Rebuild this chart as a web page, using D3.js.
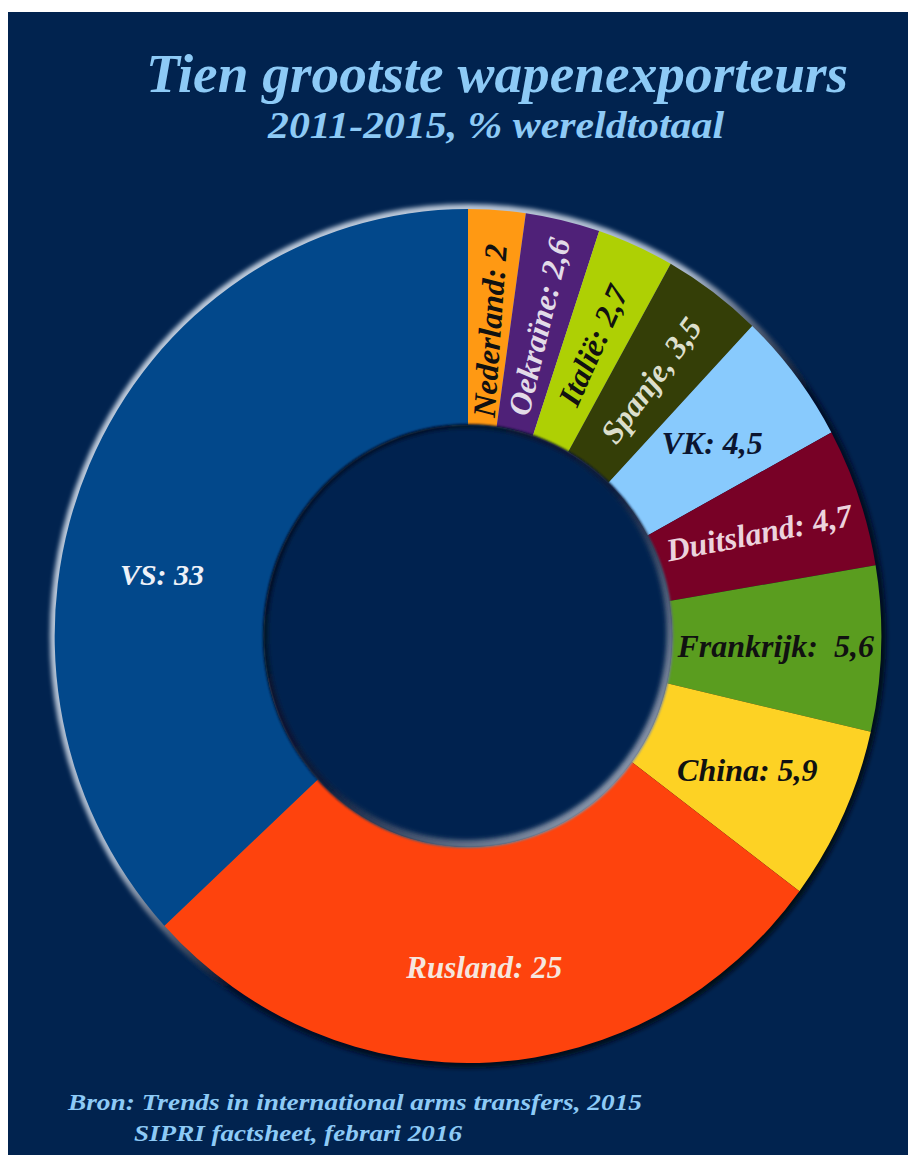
<!DOCTYPE html>
<html>
<head>
<meta charset="utf-8">
<script src="https://cdn.jsdelivr.net/npm/d3@7"></script>
<style>
  body { margin: 0; background: #fff; }
</style>
</head>
<body>
<script>
// Tien grootste wapenexporteurs 2011-2015 (SIPRI)
const countries = ["Nederland", "Oekraïne", "Italië", "Spanje", "VK", "Duitsland", "Frankrijk", "China", "Rusland", "VS"];
const shares    = [2, 2.6, 2.7, 3.5, 4.5, 4.7, 5.6, 5.9, 25, 33];
const labels    = ["Nederland: 2", "Oekraïne: 2,6", "Italië: 2,7", "Spanje, 3,5", "VK: 4,5", "Duitsland: 4,7",
                   "Frankrijk:\u00a0 5,6", "China: 5,9", "Rusland: 25", "VS: 33"];
const colors    = ["#ff9913", "#4f2178", "#aed004", "#343e07", "#88cafd", "#780126", "#5a9d1f", "#fdd224", "#fe430d", "#02488b"];
const textCols  = ["#111", "#e2dbe8", "#111", "#dcdfcc", "#0b1530", "#ecd3dd", "#111", "#111", "#f6e6de", "#eef1f8"];

const width = 920, height = 1158;
const bg = "#01234f";
const serif = "'Liberation Serif', 'DejaVu Serif', serif";
const cx = 468, cy = 636, rOut = 427, rIn = 211, sx = 0.968;

const svg = d3.select("body").append("svg")
    .attr("width", width)
    .attr("height", height)
    .style("font-family", serif)
    .style("font-style", "italic");

const defs = svg.append("defs");

let rim = defs.append("linearGradient").attr("id", "rim")
    .attr("x1", 0).attr("y1", 0).attr("x2", 1).attr("y2", 1);
rim.append("stop").attr("offset", 0).attr("stop-color", "#c9d5e4");
rim.append("stop").attr("offset", 0.42).attr("stop-color", "#a9b8cc");
rim.append("stop").attr("offset", 0.56).attr("stop-color", "#04112a");
rim.append("stop").attr("offset", 1).attr("stop-color", "#000510");

let bevel = defs.append("linearGradient").attr("id", "bevel")
    .attr("x1", 0).attr("y1", 0).attr("x2", 1).attr("y2", 1);
bevel.append("stop").attr("offset", 0).attr("stop-color", "#000814");
bevel.append("stop").attr("offset", 0.5).attr("stop-color", "#0b1d3c");
bevel.append("stop").attr("offset", 1).attr("stop-color", "#b9c6d6");

defs.append("filter").attr("id", "soft")
  .append("feGaussianBlur").attr("stdDeviation", 2);
defs.append("filter").attr("id", "soft1")
  .append("feGaussianBlur").attr("stdDeviation", 1);

// background panel
svg.append("rect")
    .attr("x", 8).attr("y", 12)
    .attr("width", 900).attr("height", 1143)
    .attr("fill", bg);

// title
svg.append("text")
    .attr("x", 497).attr("y", 92)
    .attr("text-anchor", "middle")
    .attr("font-size", 54)
    .attr("font-weight", "bold")
    .attr("fill", "#8dcaf6")
    .attr("textLength", 702).attr("lengthAdjust", "spacingAndGlyphs")
    .text("Tien grootste wapenexporteurs");

svg.append("text")
    .attr("x", 496).attr("y", 138)
    .attr("text-anchor", "middle")
    .attr("font-size", 38)
    .attr("font-weight", "bold")
    .attr("fill", "#8dcaf6")
    .attr("textLength", 456).attr("lengthAdjust", "spacingAndGlyphs")
    .text("2011-2015, % wereldtotaal");

// pie
const pie = d3.pie().sort(null).value(d => d)(shares);
const arc = d3.arc().innerRadius(rIn).outerRadius(rOut);
const labelArc = d3.arc().innerRadius(318).outerRadius(318);

const g = svg.append("g")
    .attr("transform", `translate(${cx},${cy}) scale(${sx},1)`);

// outer rim light/shadow
g.append("circle")
    .attr("r", rOut + 5)
    .attr("fill", "url(#rim)")
    .attr("filter", "url(#soft)");

g.selectAll(".slice")
    .data(pie)
    .enter()
    .append("path")
      .attr("class", "slice")
      .attr("d", arc)
      .attr("fill", (d, i) => colors[i]);

// inner hole with bevel
g.append("circle")
    .attr("r", rIn + 1)
    .attr("fill", "url(#bevel)")
    .attr("filter", "url(#soft1)");
g.append("circle")
    .attr("cx", -1).attr("cy", -2)
    .attr("r", rIn - 5)
    .attr("fill", bg)
    .attr("filter", "url(#soft)");

// labels: radial for the narrow slices at the top
const radial = ["Nederland", "Oekraïne", "Italië", "Spanje"];
const tilt = {"Duitsland": -11};
const nudge = {"VS": [-24, 66], "Rusland": [0, 14], "Nederland": [0, 12]};
const fontSize = {"VS": 30, "Rusland": 31};

const lg = svg.append("g")
    .attr("transform", `translate(${cx},${cy})`);

lg.selectAll(".lab")
    .data(pie)
    .enter()
    .append("text")
      .attr("class", "lab")
      .attr("transform", (d, i) => {
          let [x, y] = labelArc.centroid(d);
          let n = nudge[countries[i]] || [0, 0];
          x = x * sx + n[0]; y = y + n[1];
          let mid = (d.startAngle + d.endAngle) / 2 * 180 / Math.PI;
          let rot = radial.includes(countries[i]) ? mid - 90 : (tilt[countries[i]] || 0);
          return `translate(${x},${y}) rotate(${rot})`;
      })
      .attr("text-anchor", "middle")
      .attr("dy", "0.35em")
      .attr("font-size", (d, i) => fontSize[countries[i]] || 32)
      .attr("font-weight", "bold")
      .attr("fill", (d, i) => textCols[i])
      .text((d, i) => labels[i]);

// source
svg.append("text")
    .attr("x", 68).attr("y", 1110)
    .attr("font-size", 24)
    .attr("font-weight", "bold")
    .attr("fill", "#8dcaf6")
    .attr("textLength", 574).attr("lengthAdjust", "spacingAndGlyphs")
    .text("Bron: Trends in international arms transfers, 2015");
svg.append("text")
    .attr("x", 134).attr("y", 1141)
    .attr("font-size", 24)
    .attr("font-weight", "bold")
    .attr("fill", "#8dcaf6")
    .attr("textLength", 328).attr("lengthAdjust", "spacingAndGlyphs")
    .text("SIPRI factsheet, febrari 2016");
</script>
</body>
</html>
